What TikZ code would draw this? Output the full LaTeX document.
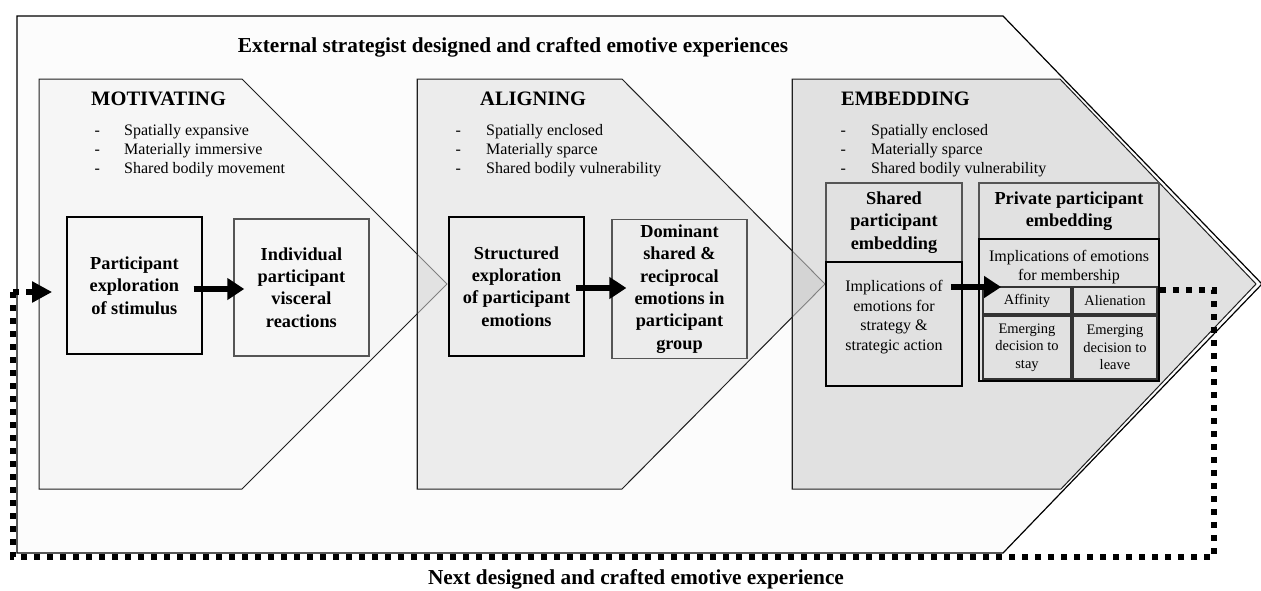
\documentclass[tikz,border=0pt]{standalone}
\usepackage{fontspec}
\setmainfont{Liberation Serif}
\usetikzlibrary{arrows.meta}

\definecolor{outerfill}{HTML}{FCFCFC}
\definecolor{motfill}{HTML}{F6F6F6}
\definecolor{alifill}{HTML}{ECECEC}
\definecolor{embfill}{HTML}{E1E1E1}
\definecolor{motali}{HTML}{E2E2E2}
\definecolor{aliemb}{HTML}{D4D4D4}
\definecolor{edgegray}{HTML}{555555}

\begin{document}
\begin{tikzpicture}[x=1pt,y=-1pt,
  chevedge/.style={draw=black!88, line width=1pt},
  hidden/.style={draw=black!50, line width=0.9pt},
  heading/.style={font=\fontsize{20.5}{24}\selectfont\bfseries, inner sep=0pt, anchor=base west},
  title/.style={font=\fontsize{21.3}{25}\selectfont\bfseries, inner sep=0pt, anchor=base},
  bullet/.style={font=\fontsize{16}{19}\selectfont, inner sep=0pt, anchor=base west},
  btxt/.style={font=\fontsize{18.3}{22.3}\selectfont\bfseries, align=center},
  rtxt/.style={font=\fontsize{16}{19.6}\selectfont, align=center},
  ctxt/.style={font=\fontsize{14.5}{17.6}\selectfont, align=center},
  stagebox/.style={minimum width=135pt, minimum height=137pt, inner sep=0pt, line width=1.5pt},
  darkbox/.style={draw=black},
  lightbox/.style={draw=edgegray, line width=1.2pt},
  cell/.style={draw=black!80, line width=1.1pt, inner sep=0pt},
  bigarrow/.style={line width=6.5pt, -{Triangle[length=17pt,width=21pt]}},
  loopline/.style={line width=6pt, dash pattern=on 6pt off 7pt}
]
\useasboundingbox (0,0) rectangle (1261,590);
\fill[white] (0,0) rectangle (1261,590);

% outer frame for the whole designed experience
\path[fill=outerfill, draw=black, line width=1.2pt]
  (17,16) -- (1003,16) -- (1262,284) -- (1003,553) -- (17,553) -- cycle;

% stage chevrons
\def\motpath{(39,79) -- (242,79) -- (447,284) -- (242,489) -- (39,489) -- cycle}
\def\alipath{(417,79) -- (622,79) -- (825,284) -- (622,489) -- (417,489) -- cycle}
\def\embpath{(792,79) -- (1060,79) -- (1256,284) -- (1061,489) -- (792,489) -- cycle}

\path[fill=motfill, chevedge] \motpath;
\path[fill=alifill, chevedge] \alipath;
\begin{scope}
  \clip \alipath;
  \path[fill=motali, hidden] \motpath;
\end{scope}
\path[chevedge] (417,79) -- (417,489);
\path[fill=embfill, chevedge] \embpath;
\begin{scope}
  \clip \embpath;
  \path[fill=aliemb, hidden] \alipath;
\end{scope}
\path[chevedge] (792,79) -- (792,489);

% titles
\node[title] (toptitle) at (513,52) {External strategist designed and crafted emotive experiences};
\node[title] (bottitle) at (636,584.5) {Next designed and crafted emotive experience};

% stage headings and bullet lists
\node[heading] (hmot) at (91,105) {MOTIVATING};
\node[heading] (hali) at (480,105) {ALIGNING};
\node[heading] (hemb) at (841,105) {EMBEDDING};

\foreach \dx/\tx/\items in {
    94.5/124/{Spatially expansive,Materially immersive,Shared bodily movement},
    455.5/486/{Spatially enclosed,Materially sparce,Shared bodily vulnerability},
    840.5/871/{Spatially enclosed,Materially sparce,Shared bodily vulnerability}} {
  \foreach \it [count=\i] in \items {
    \node[bullet] at (\dx,116+19*\i) {-};
    \node[bullet] at (\tx,116+19*\i) {\it};
  }
}

% motivating stage
\node[stagebox, darkbox, btxt] (explore) at (134.4,285.5) {Participant\\exploration\\of stimulus};
\node[stagebox, lightbox, btxt] (visceral) at (301.4,287.5) {Individual\\participant\\visceral\\reactions};

% aligning stage
\node[stagebox, darkbox, btxt, minimum height=139pt] (structured) at (516.5,286.5) {Structured\\exploration\\of participant\\emotions};
\node[stagebox, lightbox, btxt, minimum height=139pt] (dominant) at (679.5,289) {Dominant\\shared \&\\reciprocal\\emotions in\\participant\\group};

% embedding stage: shared
\node[lightbox, btxt, minimum width=136pt, minimum height=79pt, inner sep=0pt] (sharedhead) at (894,222.5) {Shared\\participant\\embedding};
\node[darkbox, line width=1.5pt, minimum width=136pt, minimum height=124pt, inner sep=0pt] (sharedbody) at (894,324) {};
\node[rtxt] (sharedtxt) at (894,317) {Implications of\\emotions for\\strategy \&\\strategic action};

% embedding stage: private
\node[lightbox, btxt, minimum width=180pt, minimum height=56pt, inner sep=0pt] (privhead) at (1069,211) {Private participant\\embedding};
\node[darkbox, line width=1.8pt, minimum width=180pt, minimum height=142pt, inner sep=0pt] (privbody) at (1069,310) {};
\node[rtxt] (privtxt) at (1069,267) {Implications of emotions\\for membership};
\node[cell, ctxt, minimum width=88pt, minimum height=27pt] (affinity) at (1027,300.5) {Affinity};
\node[cell, ctxt, minimum width=84pt, minimum height=27pt] (alienation) at (1115,300.5) {Alienation};
\node[cell, ctxt, minimum width=88pt, minimum height=63pt] (stay) at (1027,347.5) {Emerging\\decision to\\stay};
\node[cell, ctxt, minimum width=84pt, minimum height=63pt] (leave) at (1115,347.5) {Emerging\\decision to\\leave};

% flow arrows between steps
\draw[bigarrow, shorten <=-9pt, shorten >=-11pt] ([yshift=-3.5pt]explore.east) -- ([yshift=-3.5pt]explore.east -| visceral.west);
\draw[bigarrow, shorten <=-9pt, shorten >=-15pt] ([yshift=-1.5pt]structured.east) -- ([yshift=-1.5pt]structured.east -| dominant.west);
\draw[bigarrow, shorten <=-12pt, shorten >=-23pt] ([yshift=37pt]sharedbody.east) -- ([yshift=37pt]sharedbody.east -| privbody.west);

% loop back to the next experience
\coordinate (loopright) at (1214,290);
\coordinate (loopcorner) at (13,557);
\coordinate (loopentry) at (13,292);
\draw[loopline] ([yshift=20pt]privbody.east) -- (loopright) |- (loopcorner) -- (loopentry);
\draw[loopline, -{Triangle[length=20pt,width=20pt]}, shorten >=14pt] (loopentry) -- (loopentry -| explore.west);
\end{tikzpicture}
\end{document}
